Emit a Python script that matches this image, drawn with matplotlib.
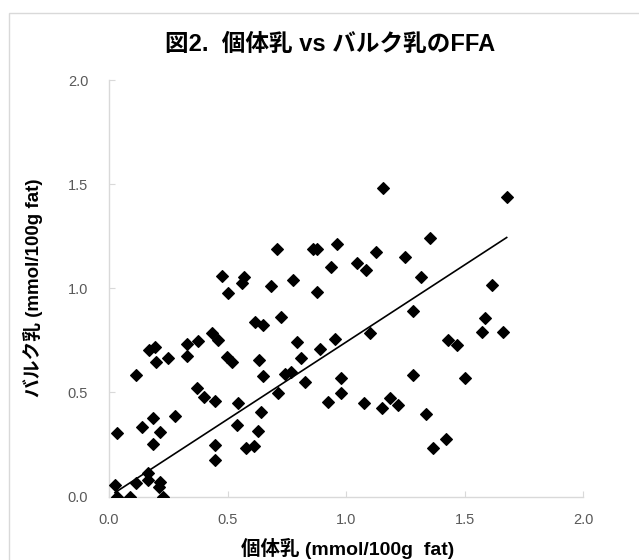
import numpy as np
import matplotlib.pyplot as plt
from matplotlib.patches import Rectangle

plt.rcParams['font.family'] = ['Liberation Sans Narrow', 'Liberation Sans', 'DejaVu Sans']

# 個体乳 FFA (x) and バルク乳 FFA (y), mmol/100g fat
kotai = [1.678, 1.157, 1.354, 0.862, 0.879, 0.963, 0.709, 1.127, 1.248, 0.937,
         1.048, 1.084, 0.776, 0.879, 1.318, 1.281, 0.726, 1.101, 1.617, 1.586,
         1.573, 1.664, 1.502, 0.478, 0.570, 0.562, 0.684, 0.503, 0.616, 0.648,
         0.114, 0.170, 0.194, 0.200, 0.250, 0.330, 0.330, 0.377, 0.433, 0.461,
         0.497, 0.519, 0.370, 0.401, 0.447, 0.634, 0.651, 0.743, 0.768, 0.714,
         0.792, 0.810, 0.890, 0.954, 0.827, 0.978, 0.978, 0.926, 1.076, 1.151,
         1.186, 1.221, 1.281, 1.338, 1.368, 1.421, 1.432, 1.467, 0.546, 0.640,
         0.539, 0.627, 0.578, 0.612, 0.447, 0.447, 0.278, 0.187, 0.139, 0.217,
         0.187, 0.034, 0.025, 0.034, 0.089, 0.114, 0.166, 0.166, 0.215, 0.212,
         0.229]
bulk = [1.438, 1.482, 1.241, 1.190, 1.190, 1.214, 1.190, 1.177, 1.150, 1.102,
        1.124, 1.089, 1.041, 0.985, 1.054, 0.890, 0.861, 0.786, 1.015, 0.860,
        0.789, 0.789, 0.568, 1.060, 1.057, 1.028, 1.012, 0.977, 0.837, 0.822,
        0.584, 0.704, 0.719, 0.647, 0.664, 0.733, 0.675, 0.749, 0.785, 0.752,
        0.672, 0.647, 0.520, 0.476, 0.459, 0.656, 0.577, 0.589, 0.600, 0.496,
        0.744, 0.666, 0.708, 0.756, 0.550, 0.570, 0.496, 0.454, 0.448, 0.424,
        0.472, 0.440, 0.584, 0.397, 0.232, 0.275, 0.752, 0.728, 0.447, 0.404,
        0.344, 0.315, 0.232, 0.243, 0.248, 0.173, 0.385, 0.376, 0.336, 0.312,
        0.252, 0.304, 0.055, 0.000, 0.000, 0.063, 0.112, 0.079, 0.071, 0.044,
        0.000]

ticks = [0.0, 0.5, 1.0, 1.5, 2.0]
tick_labels = ['0.0', '0.5', '1.0', '1.5', '2.0']

title = '図2.  個体乳 vs バルク乳のFFA'
xlabel = '個体乳 (mmol/100g  fat)'
ylabel = 'バルク乳 (mmol/100g fat)'

jp = ['Liberation Sans', 'Noto Sans CJK JP', 'DejaVu Sans']
grey = '#d9d9d9'

fig = plt.figure(figsize=(6.39, 5.6), dpi=100)
ax = fig.add_axes([109 / 639, 1 - 496.5 / 560, 474 / 639, 416.2 / 560])

x = np.array(kotai)
y = np.array(bulk)
ax.plot(x, y, linestyle='none', marker='D', markersize=6.2,
        color='black', markeredgewidth=0.8, zorder=3)

# linear trend line with the intercept set to 0
slope = np.sum(x * y) / np.sum(x * x)
xs = np.array([x.min(), x.max()])
ax.plot(xs, slope * xs, color='black', linewidth=1.2, zorder=2)

ax.set_xlim(0, 2)
ax.set_ylim(0, 2)
ax.set_xticks(ticks)
ax.set_xticklabels(tick_labels)
ax.set_yticks(ticks)
ax.set_yticklabels(tick_labels)
ax.tick_params(direction='in', length=4, color=grey, labelcolor='#595959',
               labelsize=10.5)
ax.tick_params(axis='x', pad=12)
ax.tick_params(axis='y', pad=15)
for s in ['top', 'right']:
    ax.spines[s].set_visible(False)
for s in ['left', 'bottom']:
    ax.spines[s].set_color(grey)
    ax.spines[s].set_linewidth(1.0)

fig.text(330 / 639, 1 - 44 / 560, title, ha='center', va='center',
         fontsize=17, fontweight='bold', family=jp)
fig.text(348 / 639, 1 - 548 / 560, xlabel, ha='center', va='center',
         fontsize=14, fontweight='bold', family=jp)
fig.text(33 / 639, 1 - 288 / 560, ylabel, ha='center', va='center',
         rotation=90, fontsize=13.5, fontweight='bold', family=jp)

# light frame of the chart area
fig.patches.append(Rectangle((9 / 639, -0.1), 1.2, 0.1 + 1 - 13 / 560,
                             transform=fig.transFigure, fill=False,
                             edgecolor=grey, linewidth=1.0))

fig.savefig('out.png', dpi=100)
